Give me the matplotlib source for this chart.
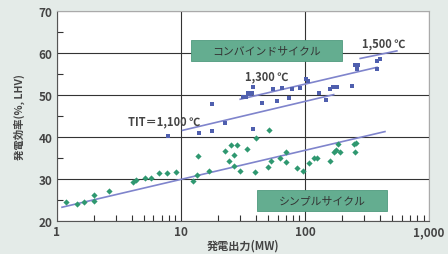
import numpy as np
import matplotlib.pyplot as plt
from matplotlib.patches import Rectangle
from matplotlib.ticker import FixedLocator, NullFormatter

plt.rcParams['font.family'] = ['Noto Sans CJK JP', 'DejaVu Sans']

# combined cycle points (MW, %)
cc_mw = [7.8, 13.9, 17.9, 17.9, 22.8, 31.8, 33.3, 34.9, 36.3, 37.2, 38.3, 38.3,
         44.8, 54.9, 59.8, 64.9, 74.7, 78.1, 91.1, 101, 106, 130, 147, 159,
         169, 181, 238, 253, 268, 264, 383, 398, 383]
cc_eff = [40.2, 40.9, 41.4, 47.9, 43.3, 49.5, 49.6, 50.6, 50.2, 50.6, 51.8, 41.8,
          48.1, 51.4, 48.6, 51.6, 49.3, 51.4, 51.7, 53.8, 53.3, 50.4, 48.8, 51.4,
          51.8, 52.0, 52.2, 57.1, 57.1, 56.1, 58.2, 58.6, 56.2]

# simple cycle points
sc_mw = [1.18, 1.44, 1.65, 2.0, 2.0, 2.63, 4.08, 4.3, 5.15, 5.76, 6.69, 7.67, 9.17,
         12.4, 13.5, 13.7, 16.9, 22.6, 25.3, 28.5, 24.4, 26.9, 26.9, 29.7, 34.3,
         40.3, 39.5, 51, 50, 52.9, 62.8, 70.3, 70.3, 85.7, 95.8, 108, 117, 125,
         159, 172, 178, 184, 191, 250, 258, 253]
sc_eff = [24.45, 24.0, 24.45, 26.2, 24.9, 27.1, 29.4, 29.8, 30.2, 30.2, 31.4, 31.4, 31.7,
          29.5, 31.0, 35.5, 31.9, 36.7, 38.1, 38.0, 34.2, 35.8, 33.0, 31.9, 37.1,
          39.7, 31.7, 41.6, 32.8, 34.4, 35.1, 36.4, 34.1, 32.7, 31.9, 33.9, 34.9, 34.9,
          34.4, 36.4, 37.0, 38.3, 36.4, 38.3, 38.5, 36.4]

# trend lines (x pair, y pair)
line_1100 = ([10.3, 170], [41.6, 50.1])
line_1300 = ([30, 380], [49.0, 56.6])
line_1500 = ([278, 549], [58.7, 60.5])
line_simple = ([1.1, 440], [23.3, 41.3])

xticks = [1, 10, 100, 1000]
xtick_labels = ['1', '10', '100', '1,000']
yticks = [20, 30, 40, 50, 60, 70]

fig = plt.figure(figsize=(4.48, 2.55), dpi=100)
fig.patch.set_facecolor('#e4ebe8')
ax = fig.add_axes([0.127, 0.129, 0.831, 0.824])
ax.set_facecolor('white')
ax.set_xscale('log')
ax.set_xlim(1, 1000)
ax.set_ylim(20, 70)

ax.set_xticks(xticks)
ax.set_xticklabels(xtick_labels)
ax.xaxis.set_minor_locator(FixedLocator([m * 10 ** d for d in range(3) for m in range(2, 10)]))
ax.xaxis.set_minor_formatter(NullFormatter())
ax.set_yticks(yticks)
ax.yaxis.set_minor_locator(FixedLocator([25, 35, 45, 55, 65]))

ax.tick_params(which='major', length=0, labelsize=8.5, colors='#444444', pad=3)
ax.tick_params(which='minor', direction='in', length=4, width=0.8, color='#333333')
for lab in ax.get_xticklabels() + ax.get_yticklabels():
    lab.set_fontweight('bold')

ax.grid(True, which='major', color='#333333', lw=0.8, zorder=0)
ax.set_axisbelow(True)
for s in ['left', 'bottom']:
    ax.spines[s].set_color('#555555')
for s in ['top', 'right']:
    ax.spines[s].set_color('#aaaaaa')

# label boxes
ax.add_patch(Rectangle((12.0, 58.2), 199 - 12.0, 5.0, fc='#64ad90', ec='#4e9a7d', lw=0.6, zorder=2))
ax.text(np.sqrt(12.0 * 199), 60.7, 'コンバインドサイクル', ha='center', va='center',
        fontsize=7.8, color='#333333', zorder=5)
ax.add_patch(Rectangle((41, 22.4), 459 - 41, 5.0, fc='#64ad90', ec='#4e9a7d', lw=0.6, zorder=2))
ax.text(np.sqrt(41 * 459), 24.9, 'シンプルサイクル', ha='center', va='center',
        fontsize=7.8, color='#333333', zorder=5)

line_col = '#7f84cc'
for xs, ys in [line_1100, line_1300, line_1500, line_simple]:
    ax.plot(xs, ys, color=line_col, lw=1.2, zorder=3)

ax.scatter(cc_mw, cc_eff, marker='s', s=10, color='#4f5fae', zorder=4, linewidths=0)
ax.scatter(sc_mw, sc_eff, marker='D', s=10, color='#2f9870', zorder=4, linewidths=0)

txt = dict(fontsize=8, color='#444444', fontweight='bold')
ax.text(7.3, 43.8, 'TIT＝1,100 ℃', ha='center', va='center', **txt)
ax.text(49, 54.5, '1,300 ℃', ha='center', va='center', **txt)
ax.text(430, 62.4, '1,500 ℃', ha='center', va='center', **txt)

ax.set_xlabel('発電出力(MW)', fontsize=8, color='#444444', fontweight='bold', labelpad=0)
ax.set_ylabel('発電効率(%, LHV)', fontsize=7.5, color='#444444', fontweight='bold', labelpad=10)

fig.savefig('out.png', dpi=100, facecolor=fig.get_facecolor())
